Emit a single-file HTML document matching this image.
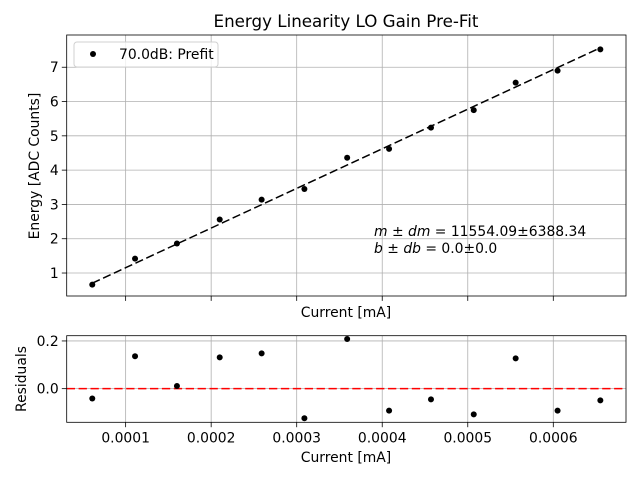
<!DOCTYPE html>
<html><head><meta charset="utf-8"><style>
html,body{margin:0;padding:0;background:#fff;}
svg{display:block;font-family:"DejaVu Sans","Liberation Sans",sans-serif;}
</style></head><body>
<svg id="chart" width="640" height="480" viewBox="0 0 640 480" xmlns="http://www.w3.org/2000/svg">
<rect width="640" height="480" fill="#fff"/>
<g id="topPlot"></g>
<g id="botPlot"></g>
<text x="346" y="27" font-size="16.7" text-anchor="middle">Energy Linearity LO Gain Pre-Fit</text>
<text x="346" y="317" font-size="13.9" text-anchor="middle">Current [mA]</text>
<text transform="translate(39,166) rotate(-90)" font-size="13.9" text-anchor="middle">Energy [ADC Counts]</text>
<text x="346" y="462" font-size="13.9" text-anchor="middle">Current [mA]</text>
<text transform="translate(26,379) rotate(-90)" font-size="13.9" text-anchor="middle">Residuals</text>
<g font-size="13.9">
<text x="374" y="236"><tspan font-style="italic">m</tspan> ± <tspan font-style="italic">dm</tspan> = 11554.09±6388.34</text>
<text x="374" y="253"><tspan font-style="italic">b</tspan> ± <tspan font-style="italic">db</tspan> = 0.0±0.0</text>
</g>
<g>
<rect x="74" y="42" width="144" height="25" rx="3" fill="#fff" fill-opacity="0.8" stroke="#d0d0d0"/>
<circle cx="93" cy="54" r="3" fill="#000"/>
<text x="119" y="59" font-size="13.9">70.0dB: Prefit</text>
</g>
</svg>
<script>
const currents = [6.1e-5, 1.11e-4, 1.60e-4, 2.10e-4, 2.59e-4, 3.09e-4, 3.59e-4, 4.08e-4, 4.57e-4, 5.07e-4, 5.56e-4, 6.05e-4, 6.55e-4];
const energies = [0.66, 1.42, 1.86, 2.56, 3.14, 3.45, 4.36, 4.62, 5.24, 5.75, 6.55, 6.90, 7.52];
const residuals = [-0.041, 0.136, 0.011, 0.131, 0.148, -0.124, 0.208, -0.092, -0.045, -0.108, 0.127, -0.092, -0.049];
const slope = [11554.09];
const intercept = [0.0];
const xTicks = [0.0001, 0.0002, 0.0003, 0.0004, 0.0005, 0.0006];
const xTickLabels = ["0.0001", "0.0002", "0.0003", "0.0004", "0.0005", "0.0006"];
const yTicks = [1, 2, 3, 4, 5, 6, 7];
const yTickLabels = ["1", "2", "3", "4", "5", "6", "7"];
const rTicksShown = [0.0, 0.2];
const rTickLabels = ["0.0", "0.2"];

const NS = "http://www.w3.org/2000/svg";
const L = 66.7, R = 626;
const xMin = 0.0000311, xMax = 0.000685;
const x = v => L + (v - xMin) / (xMax - xMin) * (R - L);
const tT = 35, tB = 296, yMin = 0.33, yMax = 7.94;
const y = v => tB - (v - yMin) / (yMax - yMin) * (tB - tT);
const bT = 335.7, bB = 422.3, rMin = -0.141, rMax = 0.222;
const yr = v => bB - (v - rMin) / (rMax - rMin) * (bB - bT);

function mk(parent, tag, attrs) {
  const e = document.createElementNS(NS, tag);
  for (const k in attrs) e.setAttribute(k, attrs[k]);
  parent.appendChild(e);
  return e;
}
const topG = document.getElementById("topPlot");
const botG = document.getElementById("botPlot");

function axes(g, T, B, yTickVals, yLabels, yf, prefix) {
  mk(g, "rect", {x: L, y: T, width: R - L, height: B - T, fill: "#fff"});
  xTicks.forEach((t, i) => {
    const gl = mk(g, "line", {x1: x(t), x2: x(t), y1: T, y2: B, stroke: "#b0b0b0", "stroke-width": 0.8});
    
    
    mk(g, "line", {x1: x(t), x2: x(t), y1: B, y2: B + 4.9, stroke: "#000", "stroke-width": 0.8});
    if (prefix === "bottom") {
      const tx = mk(g, "text", {x: x(t), y: B + 20, "font-size": 13.9, "text-anchor": "middle"});
      tx.textContent = xTickLabels[i];
      
      
    }
  });
  yTickVals.forEach((t, i) => {
    const gl = mk(g, "line", {x1: L, x2: R, y1: yf(t), y2: yf(t), stroke: "#b0b0b0", "stroke-width": 0.8});
    
    
    mk(g, "line", {x1: L - 4.9, x2: L, y1: yf(t), y2: yf(t), stroke: "#000", "stroke-width": 0.8});
    const tx = mk(g, "text", {x: L - 8, y: yf(t) + 5, "font-size": 13.9, "text-anchor": "end"});
    tx.textContent = yLabels[i];
    
    
  });
}
axes(topG, tT, tB, yTicks, yTickLabels, y, "top");
axes(botG, bT, bB, rTicksShown, rTickLabels, yr, "bottom");

const x0 = currents[0], x1 = currents[currents.length - 1];
const fit = mk(topG, "line", {x1: x(x0), y1: y(slope[0] * x0 + intercept[0]), x2: x(x1), y2: y(slope[0] * x1 + intercept[0]), stroke: "#000", "stroke-width": 1.5, "stroke-dasharray": "8.3,3.6"});



currents.forEach((c, i) => {
  const p = mk(topG, "circle", {cx: x(c), cy: y(energies[i]), r: 3, fill: "#000"});
  
  
});

const zl = mk(botG, "line", {x1: L, x2: R, y1: yr(0), y2: yr(0), stroke: "#ff0000", "stroke-width": 1.5, "stroke-dasharray": "8.3,3.6"});



currents.forEach((c, i) => {
  const p = mk(botG, "circle", {cx: x(c), cy: yr(residuals[i]), r: 3, fill: "#000"});
  
  
});

mk(topG, "rect", {x: L, y: tT, width: R - L, height: tB - tT, fill: "none", stroke: "#000", "stroke-width": 0.8});
mk(botG, "rect", {x: L, y: bT, width: R - L, height: bB - bT, fill: "none", stroke: "#000", "stroke-width": 0.8});
</script>
</body></html>
